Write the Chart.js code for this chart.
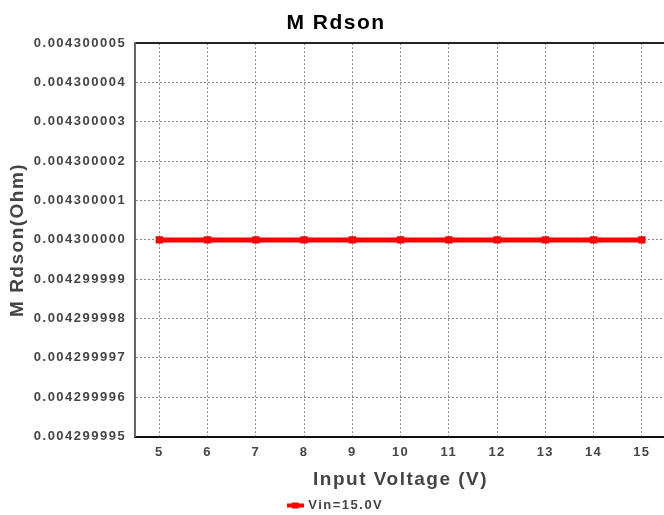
<!DOCTYPE html>
<html>
<head>
<meta charset="utf-8">
<script src="https://cdn.jsdelivr.net/npm/chart.js@4.4.0/dist/chart.umd.min.js"></script>
<style>
  html, body { margin: 0; padding: 0; background: #fff; overflow: hidden; }
  #wrap { width: 666px; height: 515px; }
</style>
</head>
<body>
<div id="wrap"><canvas id="chartRdson"></canvas></div>
<script>
var voltages = ['5', '6', '7', '8', '9', '10', '11', '12', '13', '14', '15'];
var rdsonVin15 = [0.0043, 0.0043, 0.0043, 0.0043, 0.0043, 0.0043, 0.0043, 0.0043, 0.0043, 0.0043, 0.0043];
var yTicks = [0.004299995, 0.004299996, 0.004299997, 0.004299998, 0.004299999, 0.004300000,
	0.004300001, 0.004300002, 0.004300003, 0.004300004, 0.004300005];

var fontFamily = '"Liberation Sans", Arial, sans-serif';

// legend marker: red line with a square in the middle
var legendMark = document.createElement('canvas');
legendMark.width = 17;
legendMark.height = 8;
(function () {
	var c = legendMark.getContext('2d');
	c.fillStyle = '#ff0000';
	c.fillRect(0, 2, 17, 4);
	c.fillRect(5, 1, 7, 6);
})();

// spread letters a bit, the way the original renderer does
var spacing = {
	id: 'spacing',
	beforeUpdate: function (chart) { chart.ctx.letterSpacing = '1.5px'; },
	beforeDraw: function (chart) { chart.ctx.letterSpacing = '1.5px'; }
};

new Chart(document.getElementById('chartRdson'), {
	type: 'line',
	data: {
		labels: voltages,
		datasets: [{
			label: 'Vin=15.0V',
			data: rdsonVin15,
			borderColor: '#ff0000',
			backgroundColor: '#ff0000',
			borderWidth: 5,
			pointStyle: 'rect',
			pointRadius: 5.2,
			pointBorderWidth: 0,
			pointBackgroundColor: '#ff0000',
			fill: false,
			tension: 0
		}]
	},
	plugins: [spacing],
	options: {
		responsive: true,
		maintainAspectRatio: false,
		animation: false,
		layout: { autoPadding: false, padding: { left: 6, right: 0, top: 0, bottom: -7 } },
		plugins: {
			title: {
				display: true,
				text: 'M Rdson',
				color: '#000',
				font: { family: fontFamily, size: 21, weight: 'bold' },
				padding: { top: 11, bottom: 7 }
			},
			legend: {
				position: 'bottom',
				labels: {
					usePointStyle: true,
					pointStyle: legendMark,
					color: '#444',
					font: { family: fontFamily, size: 13, weight: 'bold' },
					padding: 4
				}
			},
			tooltip: { enabled: false }
		},
		scales: {
			x: {
				type: 'category',
				offset: true,
				afterFit: function (scale) {
					scale.paddingLeft = 0;
					scale.paddingRight = 0;
				},
				grid: {
					offset: false,
					color: '#8a8a8a',
					lineWidth: 1,
					drawTicks: false
				},
				border: { display: true, color: '#111', width: 2, dash: [2, 2] },
				ticks: {
					color: '#444',
					padding: 8,
					font: { family: fontFamily, size: 13, weight: 'bold' }
				},
				title: {
					display: true,
					text: 'Input Voltage (V)',
					color: '#444',
					font: { family: fontFamily, size: 19, weight: 'bold' },
					padding: { top: 0, bottom: 4 }
				}
			},
			xTop: {
				type: 'category',
				position: 'top',
				offset: true,
				afterFit: function (scale) {
					scale.paddingLeft = 0;
					scale.paddingRight = 0;
				},
				grid: { display: false, drawTicks: false },
				ticks: { display: false },
				border: { display: true, color: '#222', width: 2 }
			},
			y: {
				type: 'linear',
				min: yTicks[0],
				max: yTicks[yTicks.length - 1],
				afterBuildTicks: function (scale) {
					scale.ticks = yTicks.map(function (v) { return { value: v }; });
				},
				afterFit: function (scale) {
					scale.width = scale.width - 8;
				},
				grid: {
					color: '#8a8a8a',
					lineWidth: 1,
					drawTicks: false
				},
				border: { display: true, color: '#666', width: 2, dash: [2, 2] },
				ticks: {
					color: '#444',
					padding: 9,
					font: { family: fontFamily, size: 13, weight: 'bold' },
					callback: function (v) { return Number(v).toFixed(9); }
				},
				title: {
					display: true,
					text: 'M Rdson(Ohm)',
					color: '#444',
					font: { family: fontFamily, size: 19, weight: 'bold' },
					padding: { top: 0, bottom: 4 }
				}
			}
		}
	}
});
</script>
</body>
</html>
